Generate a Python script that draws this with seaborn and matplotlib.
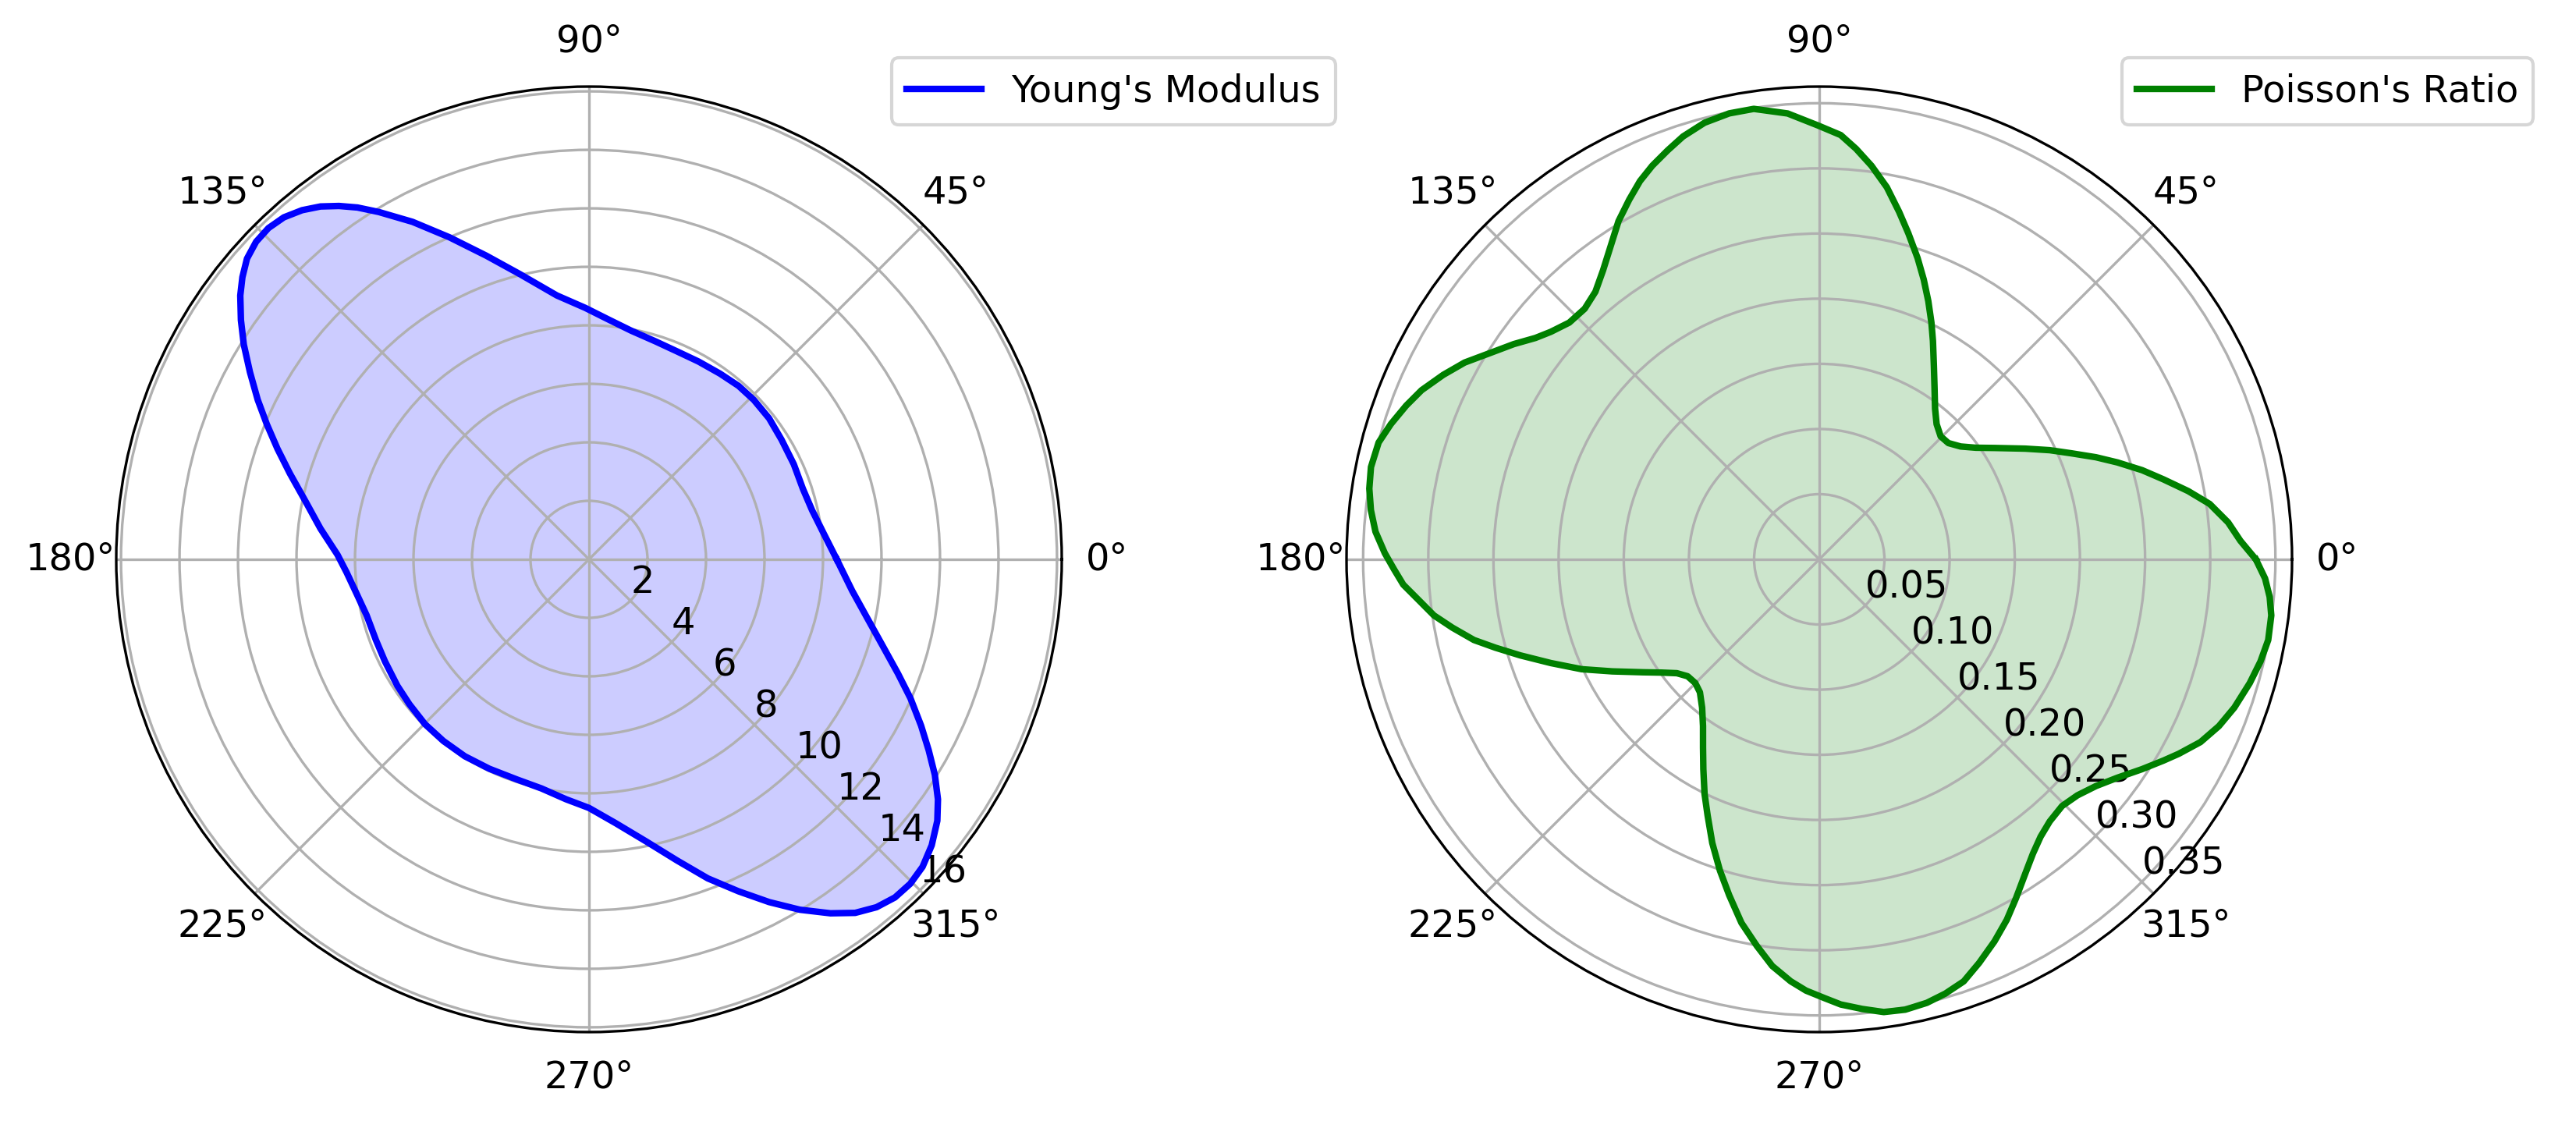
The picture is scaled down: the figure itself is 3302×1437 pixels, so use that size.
import numpy as np
import matplotlib
matplotlib.use("Agg")
import matplotlib.pyplot as plt
import seaborn as sns

# ---- data (angle in degrees, value) ----
youngs_angle_deg = [0, 5.95, 12.40, 18.25, 24.91, 31.86, 38.07, 44.06, 49.21, 54.76,
                    61.01, 67.03, 72.98, 79.55, 85.06, 90.88, 96.96, 103.60, 108.69,
                    113.43, 117.60, 121.18, 123.35, 125.28, 127.27, 129.41, 131.74,
                    134.06, 136.35, 138.68, 140.85, 142.89, 145.50, 148.11, 151.10,
                    154.29, 157.27, 160.47, 163.98, 168.39, 173.48, 178.96, 183.08,
                    188.46, 194.11, 200.68, 206.55, 213.41, 218.91, 225.12, 231.28,
                    237.76, 244.53, 251.86, 258.28, 264.52, 270.0, 275.80, 281.51,
                    286.31, 290.42, 294.25, 297.73, 301.03, 304.30, 306.97, 309.57,
                    312.14, 314.73, 317.33, 320.16, 323.11, 325.48, 328.08, 330.67,
                    333.39, 336.64, 339.72, 343.57, 348.03, 353.20, 360]
youngs_modulus = [8.47, 8.09, 7.81, 7.70, 7.72, 7.75, 7.82, 7.84, 7.83, 7.77,
                  7.73, 7.72, 7.79, 7.95, 8.21, 8.60, 9.09, 10.03, 10.96,
                  12.00, 13.02, 13.88, 14.40, 14.80, 15.16, 15.45, 15.67,
                  15.76, 15.73, 15.57, 15.28, 14.95, 14.44, 13.90, 13.24,
                  12.57, 11.94, 11.30, 10.64, 9.90, 9.24, 8.60, 8.30,
                  8.03, 7.84, 7.79, 7.80, 7.85, 7.89, 7.95, 7.96,
                  7.96, 7.93, 7.92, 8.00, 8.24, 8.50, 9.07, 9.85,
                  10.73, 11.64, 12.45, 13.24, 13.98, 14.65, 15.13, 15.43,
                  15.59, 15.61, 15.51, 15.26, 14.89, 14.48, 13.93, 13.32,
                  12.70, 11.97, 11.26, 10.47, 9.73, 9.06, 8.47]

poisson_angle_deg = [0, 2.51, 5.16, 8.07, 10.48, 13.07, 15.44, 18.00, 20.25, 22.82,
                     25.34, 28.26, 32.44, 35.46, 38.60, 42.01, 45.38, 49.06, 52.45,
                     56.21, 59.39, 62.50, 64.65, 67.11, 69.53, 71.93, 74.71, 77.06,
                     79.71, 82.45, 84.88, 87.11, 90.20, 94.06, 98.27, 101.42, 104.72,
                     107.86, 110.34, 112.99, 115.36, 117.84, 120.69, 123.61, 126.79,
                     129.92, 133.11, 136.56, 139.71, 142.04, 144.82, 148.02, 150.97,
                     153.87, 156.96, 159.58, 162.47, 165.15, 168.37, 171.07, 173.74,
                     176.43, 179.19, 181.34, 183.48, 185.80, 188.28, 190.56, 193.15,
                     195.26, 197.79, 201.13, 204.81, 208.43, 212.66, 215.68, 218.65,
                     221.62, 224.95, 228.09, 231.69, 235.12, 238.31, 241.07, 243.93,
                     246.43, 249.33, 252.30, 254.98, 257.92, 260.83, 263.40, 266.12,
                     268.24, 270.80, 272.77, 275.46, 278.11, 280.81, 283.63, 286.18,
                     288.89, 291.61, 294.64, 297.48, 300.13, 303.23, 305.97, 308.58,
                     311.33, 314.55, 317.57, 320.67, 323.78, 326.97, 329.70, 331.61,
                     334.39, 337.35, 340.34, 343.96, 346.96, 349.81, 352.93, 355.23,
                     357.54, 360]
poisson_ratio = [0.335, 0.3235, 0.3150, 0.3026, 0.2879, 0.2712, 0.2570, 0.2406, 0.2263,
                 0.2098, 0.1957, 0.1794, 0.1593, 0.1476, 0.1388, 0.1333, 0.1326, 0.1374,
                 0.1458, 0.1590, 0.1727, 0.1889, 0.2010, 0.2151, 0.2292, 0.2432, 0.2593,
                 0.2736, 0.2902, 0.3047, 0.3163, 0.3260, 0.3330, 0.3430, 0.3493, 0.3491,
                 0.3464, 0.3409, 0.3347, 0.3281, 0.3212, 0.3122, 0.3018, 0.2890, 0.2770,
                 0.2677, 0.2634, 0.2642, 0.2700, 0.2762, 0.2867, 0.2985, 0.3112, 0.3214,
                 0.3316, 0.3382, 0.3447, 0.3498, 0.3512, 0.3495, 0.3461, 0.3412, 0.3334,
                 0.3264, 0.3198, 0.3090, 0.2988, 0.2863, 0.2721, 0.2576, 0.2411, 0.2208,
                 0.2009, 0.1806, 0.1606, 0.1490, 0.1399, 0.1351, 0.1344, 0.1371, 0.1450,
                 0.1560, 0.1698, 0.1839, 0.2003, 0.2143, 0.2326, 0.2507, 0.2668, 0.2853,
                 0.3005, 0.3141, 0.3245, 0.3311, 0.3370, 0.3420, 0.3466, 0.3509, 0.3518,
                 0.3502, 0.3470, 0.3423, 0.3331, 0.3225, 0.3118, 0.3007, 0.2884, 0.2791,
                 0.2723, 0.2678, 0.2656, 0.2684, 0.2745, 0.2836, 0.2954, 0.3060, 0.3137,
                 0.3244, 0.3323, 0.3382, 0.3437, 0.3475, 0.3500, 0.3495, 0.3468, 0.3424,
                 0.335]

series_labels = ["Young's Modulus", "Poisson's Ratio"]
series_colors = ["blue", "green"]

plt.rcParams['font.size'] = 11.5

W, H = 3302, 1437
fig = plt.figure(figsize=(W / 300, H / 300), dpi=300)
size = 1212
ax1 = fig.add_axes([149 / W, (H - 1323) / H, size / W, size / H], projection='polar')
ax2 = fig.add_axes([1726 / W, (H - 1323) / H, size / W, size / H], projection='polar')

datasets = [(ax1, youngs_angle_deg, youngs_modulus),
            (ax2, poisson_angle_deg, poisson_ratio)]

for (ax, ang, val), color, label in zip(datasets, series_colors, series_labels):
    th = np.deg2rad(np.array(ang, dtype=float))
    r = np.array(val, dtype=float)
    sns.lineplot(x=th, y=r, sort=False, estimator=None, ax=ax, color=color,
                 linewidth=2, label=label)
    ax.fill(th, r, color=color, alpha=0.2)
    ax.set_rlabel_position(-45)
    ax.set_xlabel('')
    ax.set_ylabel('')
    ax.legend(loc='upper left', bbox_to_anchor=(0.8, 1.05))

fig.savefig('out.png', dpi=300)
